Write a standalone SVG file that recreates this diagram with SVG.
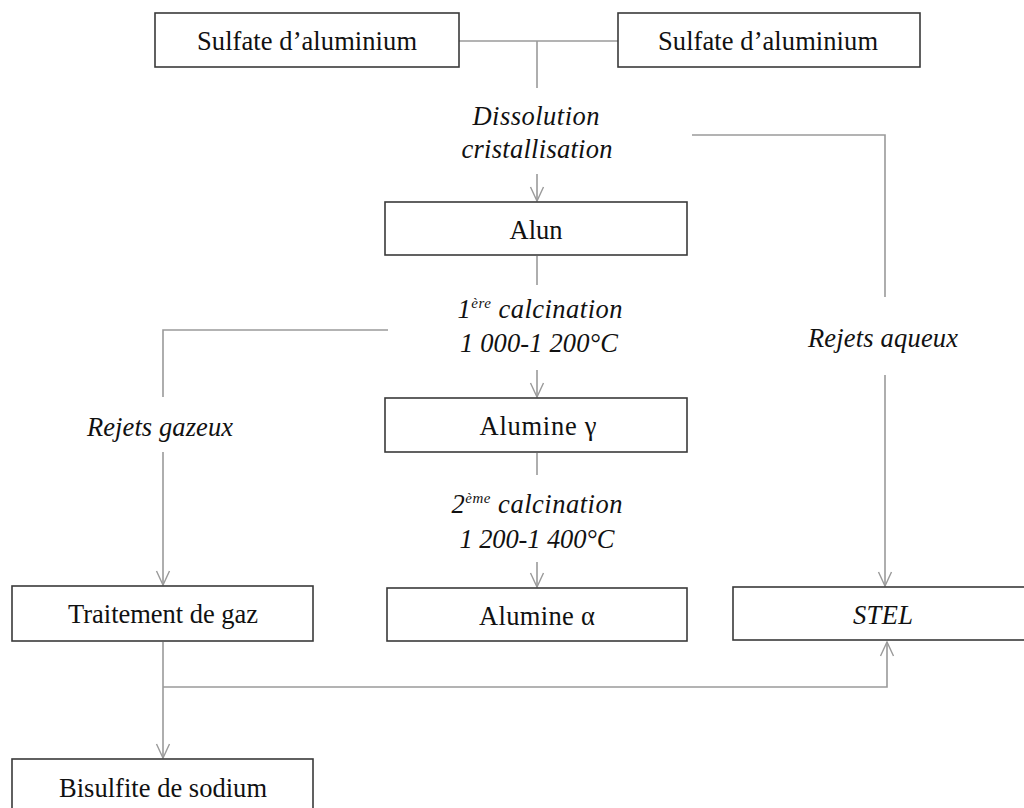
<svg xmlns="http://www.w3.org/2000/svg" width="1024" height="808" viewBox="0 0 1024 808">
<defs>
<style>
.box{fill:#fff;stroke:#3a3a3a;stroke-width:1.6}
.lbl{font-family:"Liberation Serif","Times New Roman",serif;font-size:26.5px;fill:#111;text-anchor:middle}
.it{font-style:italic}
.sup{font-size:15px}
.con{fill:none;stroke:#9a9a9a;stroke-width:1.6}
</style>
<marker id="ah" viewBox="0 0 16 16" refX="15" refY="8" markerWidth="16" markerHeight="16" markerUnits="userSpaceOnUse" orient="auto">
<path d="M1,1.5 L15,8 L1,14.5" fill="none" stroke="#9a9a9a" stroke-width="1.4"/>
</marker>
</defs>
<rect width="1024" height="808" fill="#fff"/>
<g id="connectors">
<path class="con" d="M459,41 H618"/>
<path class="con" d="M537,41 V88"/>
<path class="con" d="M537,174 V201" marker-end="url(#ah)"/>
<path class="con" d="M537,256 V285"/>
<path class="con" d="M537,370 V397" marker-end="url(#ah)"/>
<path class="con" d="M537,453 V475"/>
<path class="con" d="M537,562 V587" marker-end="url(#ah)"/>
<path class="con" d="M692,135 H885 V297"/>
<path class="con" d="M885,375 V586" marker-end="url(#ah)"/>
<path class="con" d="M388,330 H163 V397"/>
<path class="con" d="M163,452 V585" marker-end="url(#ah)"/>
<path class="con" d="M163,642 V758" marker-end="url(#ah)"/>
<path class="con" d="M163,687 H887 V642" marker-end="url(#ah)"/>
</g>
<g id="n-sulfate1"><rect class="box" x="155" y="13" width="304" height="54"/><text class="lbl" x="307" y="50" textLength="220" lengthAdjust="spacing">Sulfate d’aluminium</text></g>
<g id="n-sulfate2"><rect class="box" x="618" y="13" width="302" height="54"/><text class="lbl" x="768" y="50" textLength="220" lengthAdjust="spacing">Sulfate d’aluminium</text></g>
<g id="l-dissolution"><text class="lbl it" x="536" y="125" textLength="127" lengthAdjust="spacing">Dissolution</text><text class="lbl it" x="537" y="158" textLength="151" lengthAdjust="spacing">cristallisation</text></g>
<g id="n-alun"><rect class="box" x="385" y="202" width="302" height="53"/><text class="lbl" x="536" y="239" textLength="53" lengthAdjust="spacing">Alun</text></g>
<g id="l-calc1"><text class="lbl it" x="540" y="318" textLength="165" lengthAdjust="spacing">1<tspan class="sup" dy="-10">ère</tspan><tspan dy="10"> calcination</tspan></text><text class="lbl it" x="539" y="352" textLength="158" lengthAdjust="spacing">1 000-1 200°C</text></g>
<g id="n-gamma"><rect class="box" x="385" y="398" width="302" height="54"/><text class="lbl" x="538" y="435" textLength="117" lengthAdjust="spacing">Alumine γ</text></g>
<g id="l-calc2"><text class="lbl it" x="537" y="513" textLength="171" lengthAdjust="spacing">2<tspan class="sup" dy="-10">ème</tspan><tspan dy="10"> calcination</tspan></text><text class="lbl it" x="537" y="548" textLength="155" lengthAdjust="spacing">1 200-1 400°C</text></g>
<g id="l-gazeux"><text class="lbl it" x="160" y="436" textLength="146" lengthAdjust="spacing">Rejets gazeux</text></g>
<g id="l-aqueux"><text class="lbl it" x="883" y="347" textLength="150" lengthAdjust="spacing">Rejets aqueux</text></g>
<g id="n-alpha"><rect class="box" x="387" y="588" width="300" height="53"/><text class="lbl" x="537" y="625" textLength="116" lengthAdjust="spacing">Alumine α</text></g>
<g id="n-traitement"><rect class="box" x="12" y="586" width="301" height="55"/><text class="lbl" x="163" y="623" textLength="190" lengthAdjust="spacing">Traitement de gaz</text></g>
<g id="n-stel"><rect class="box" x="733" y="587" width="301" height="53"/><text class="lbl it" x="883" y="624" textLength="60" lengthAdjust="spacing">STEL</text></g>
<g id="n-bisulfite"><rect class="box" x="12" y="759" width="301" height="56"/><text class="lbl" x="163" y="797" textLength="208" lengthAdjust="spacing">Bisulfite de sodium</text></g>
</svg>
